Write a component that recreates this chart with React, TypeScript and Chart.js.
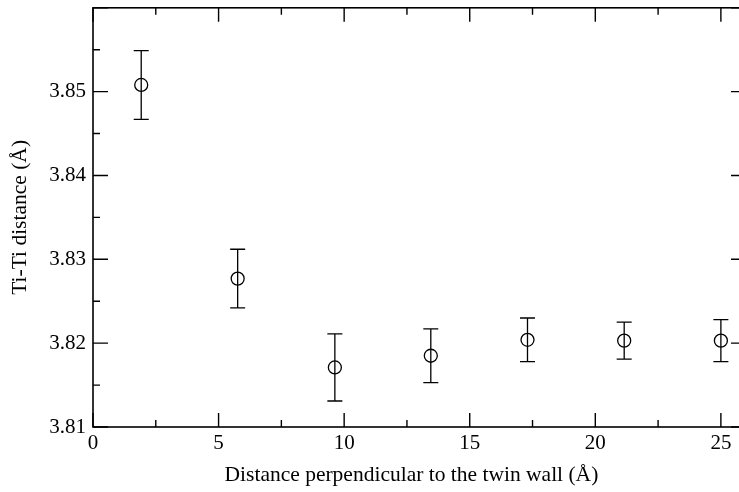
import React, { useEffect, useRef } from "react";
import { Chart, registerables } from "chart.js";

Chart.register(...registerables);

const distances = [1.92, 5.76, 9.63, 13.45, 17.3, 21.15, 25.0];
const tiTiDistance = [3.8508, 3.8277, 3.8171, 3.8185, 3.8204, 3.8203, 3.8203];
const errorBars = [0.0041, 0.0035, 0.004, 0.0032, 0.0026, 0.0022, 0.0025];
const xTickValues = [0, 5, 10, 15, 20, 25];
const yTickValues = [3.81, 3.82, 3.83, 3.84, 3.85];

const FONT = "'Liberation Serif', 'Times New Roman', serif";

const errorBarPlugin = {
  id: "errorBars",
  afterDatasetsDraw(chart: any) {
    const { ctx, scales } = chart;
    const x = scales.x;
    const y = scales.y;
    ctx.save();
    ctx.strokeStyle = "#000";
    ctx.lineWidth = 1.3;
    const cap = 7.5;
    distances.forEach((d, i) => {
      const px = x.getPixelForValue(d);
      const top = y.getPixelForValue(tiTiDistance[i] + errorBars[i]);
      const bot = y.getPixelForValue(tiTiDistance[i] - errorBars[i]);
      ctx.beginPath();
      ctx.moveTo(px, top);
      ctx.lineTo(px, bot);
      ctx.moveTo(px - cap, top);
      ctx.lineTo(px + cap, top);
      ctx.moveTo(px - cap, bot);
      ctx.lineTo(px + cap, bot);
      ctx.stroke();
    });
    ctx.restore();
  },
};

const framePlugin = {
  id: "frame",
  afterDraw(chart: any) {
    const { ctx, chartArea: a, scales } = chart;
    const x = scales.x;
    const y = scales.y;
    ctx.save();
    ctx.strokeStyle = "#000";
    ctx.lineWidth = 1.6;
    ctx.strokeRect(a.left, a.top, a.right - a.left, a.bottom - a.top);
    ctx.lineWidth = 1.4;
    ctx.beginPath();
    for (let k = 0; k <= 10; k++) {
      const v = k * 2.5;
      const px = x.getPixelForValue(v);
      const len = k % 2 === 0 ? 14 : 7;
      ctx.moveTo(px, a.bottom);
      ctx.lineTo(px, a.bottom - len);
      ctx.moveTo(px, a.top);
      ctx.lineTo(px, a.top + len);
    }
    for (let k = 0; k <= 10; k++) {
      const v = 3.81 + k * 0.005;
      const py = y.getPixelForValue(v);
      const len = k % 2 === 0 ? 15 : 7;
      ctx.moveTo(a.left, py);
      ctx.lineTo(a.left + len, py);
      ctx.moveTo(a.right, py);
      ctx.lineTo(a.right - len, py);
    }
    ctx.stroke();
    ctx.restore();
  },
};

export default function App() {
  const ref = useRef<HTMLCanvasElement>(null);
  useEffect(() => {
    if (!ref.current) return;
    const chart = new Chart(ref.current, {
      type: "scatter",
      data: {
        datasets: [
          {
            data: distances.map((d, i) => ({ x: d, y: tiTiDistance[i] })),
            pointRadius: 6.5,
            pointHoverRadius: 6.5,
            pointBorderWidth: 1.3,
            pointBorderColor: "#000",
            pointBackgroundColor: "rgba(0,0,0,0)",
            showLine: false,
          },
        ],
      },
      options: {
        animation: false,
        responsive: false,
        devicePixelRatio: 1,
        layout: { padding: { top: 5, right: 14, left: 0, bottom: 0 } },
        plugins: {
          legend: { display: false },
          tooltip: { enabled: false },
        },
        scales: {
          x: {
            type: "linear",
            min: 0,
            max: 26,
            grid: { display: false, drawTicks: false },
            border: { display: false },
            afterBuildTicks: (s: any) => {
              s.ticks = xTickValues.map((v) => ({ value: v }));
            },
            afterFit: (s: any) => {
              s.height = 65;
              s.paddingLeft = 0;
              s.paddingRight = 0;
            },
            ticks: {
              color: "#000",
              padding: 4,
              font: { family: FONT, size: 21 },
              callback: (v: any) => String(v),
              maxRotation: 0,
            },
            title: {
              display: true,
              text: "Distance perpendicular to the twin wall (Å)\u00A0\u00A0\u00A0",
              color: "#000",
              font: { family: FONT, size: 21.5 },
              padding: { top: 0, bottom: 4 },
            },
          },
          y: {
            type: "linear",
            min: 3.81,
            max: 3.86,
            grid: { display: false, drawTicks: false },
            border: { display: false },
            afterBuildTicks: (s: any) => {
              s.ticks = yTickValues.map((v) => ({ value: v }));
            },
            afterFit: (s: any) => {
              s.width = 93;
              s.paddingTop = 0;
              s.paddingBottom = 0;
            },
            ticks: {
              color: "#000",
              padding: 7,
              font: { family: FONT, size: 21 },
              callback: (v: any) => Number(v).toFixed(2),
            },
            title: {
              display: true,
              text: "Ti-Ti distance (Å)",
              color: "#000",
              font: { family: FONT, size: 21.5 },
              padding: { top: 7, bottom: 0 },
            },
          },
        },
      },
      plugins: [errorBarPlugin, framePlugin],
    });
    return () => chart.destroy();
  }, []);
  return (
    <div style={{ position: "fixed", left: 0, top: 0, width: 739, height: 492, overflow: "hidden", background: "#fff" }}>
      <canvas ref={ref} width={760} height={492} style={{ width: 760, height: 492, display: "block" }} />
    </div>
  );
}
